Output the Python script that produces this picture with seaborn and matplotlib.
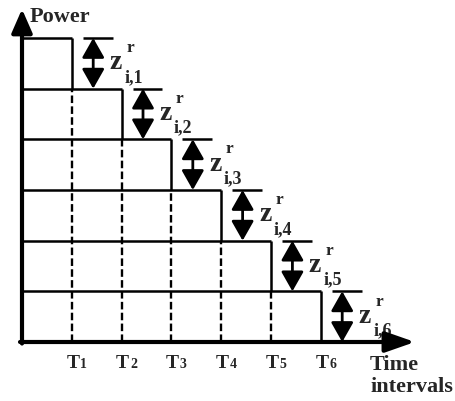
import matplotlib
matplotlib.use('Agg')
import matplotlib.pyplot as plt
import seaborn as sns

# staircase of power levels over time intervals
intervals = ['T1', 'T2', 'T3', 'T4', 'T5', 'T6']
interval_ends = [1, 2, 3, 4, 5, 6]
step_tops = [6, 5, 4, 3, 2, 1]
step_subscripts = ['i,1', 'i,2', 'i,3', 'i,4', 'i,5', 'i,6']

sns.set_style('white')
plt.rcParams['font.family'] = ['Liberation Serif', 'DejaVu Serif']

fig = plt.figure(figsize=(4.55, 4.02), dpi=100, facecolor='white')
ax = fig.add_axes([0, 0, 1, 1])
ax.set_xlim(-22 / 49.8, 433 / 49.8)
ax.set_ylim(-59 / 50.67, 343 / 50.67)
ax.axis('off')

lw = 1.8
for t, top, sub, name in zip(interval_ends, step_tops, step_subscripts, intervals):
    # row top edge and right edge
    ax.hlines(top, 0, t, color='black', lw=lw)
    ax.vlines(t, top - 1, top, color='black', lw=lw)
    # dashed interval boundary below the step
    if top - 1 > 0:
        ax.vlines(t, 0, top - 1, color='black', lw=1.7, linestyles=(0, (3.2, 1.4)))
    # small cap line and double arrow for the step size
    ax.hlines(top, t + 0.22, t + 0.82, color='black', lw=lw)
    ax.annotate('', xy=(t + 0.43, top), xytext=(t + 0.43, top - 1),
                arrowprops=dict(arrowstyle='<|-|>,head_length=0.6,head_width=0.34',
                                mutation_scale=20, lw=2, color='black',
                                shrinkA=0, shrinkB=0))
    # z^r_{i,k} label
    zx, zy = t + 0.76, top - 0.6
    ax.text(zx, zy, 'z', fontsize=20, fontweight='bold', va='baseline', ha='left')
    ax.text(zx + 0.33, zy + 0.34, 'r', fontsize=12.5, fontweight='bold',
            va='baseline', ha='left')
    ax.text(zx + 0.29, zy - 0.25, sub, fontsize=13, fontweight='bold',
            va='baseline', ha='left')
    # interval tick label
    ax.text(t + 0.15, -0.5, name[0], fontsize=14, fontweight='bold',
            va='baseline', ha='right')
    ax.text(t + 0.17, -0.5, name[1], fontsize=10, fontweight='bold',
            va='baseline', ha='left')

# axes with arrow heads
ax.annotate('', xy=(0, 6.57), xytext=(0, -0.03),
            arrowprops=dict(arrowstyle='-|>,head_length=0.8,head_width=0.35',
                            mutation_scale=18, lw=3, color='black',
                            shrinkA=0, shrinkB=0))
ax.annotate('', xy=(7.89, 0), xytext=(-0.04, 0),
            arrowprops=dict(arrowstyle='-|>,head_length=1.0,head_width=0.35',
                            mutation_scale=18, lw=3, color='black',
                            shrinkA=0, shrinkB=0))

ax.text(0.16, 6.335, 'Power', fontsize=16, fontweight='bold', va='baseline', ha='left')
ax.text(6.99, -0.53, 'Time', fontsize=16, fontweight='bold', va='baseline', ha='left')
ax.text(6.99, -0.97, 'intervals', fontsize=16, fontweight='bold', va='baseline', ha='left')

plt.savefig('out.png', dpi=100, facecolor='white')
